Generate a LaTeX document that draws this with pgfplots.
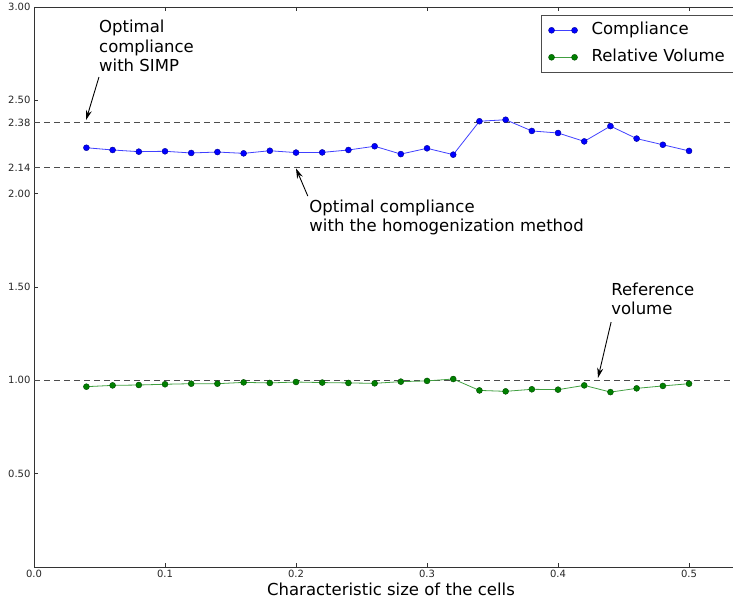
\documentclass[border=0pt]{standalone}
\usepackage{pgfplots}
\pgfplotsset{compat=1.18}
\usepackage{fontspec}
\setmainfont{DejaVu Sans}
\usetikzlibrary{arrows.meta}

\definecolor{mplblue}{rgb}{0,0,1}
\definecolor{mplgreen}{rgb}{0,0.5,0}

\begin{document}
\begin{tikzpicture}
\begin{axis}[
    scale only axis,
    width=714pt, height=560pt,
    xmin=0, xmax=0.545,
    ymin=0, ymax=3,
    xtick={0,0.1,0.2,0.3,0.4,0.5},
    ytick={0.5,1,1.5,2,2.14,2.38,2.5,3},
    xticklabel style={/pgf/number format/.cd,fixed,fixed zerofill,precision=1},
    yticklabel style={/pgf/number format/.cd,fixed,fixed zerofill,precision=2},
    /pgf/number format/assume math mode=true,
    tick label style={font=\fontsize{10}{11}\selectfont, text=black!85},
    tick align=inside,
    major tick length=4pt,
    tick style={black!80, line width=0.6pt},
    axis line style={black!80, line width=0.8pt},
    xlabel={Characteristic size of the cells},
    xlabel style={font=\fontsize{16.5}{19}\selectfont, yshift=2pt},
    legend cell align=left,
    legend style={at={(1,1)}, anchor=north east, xshift=-14pt, yshift=-8pt,
        draw=black!70, line width=0.6pt, inner xsep=7pt, inner ysep=5pt, row sep=7pt,
        font=\fontsize{16.5}{19}\selectfont,
        nodes={inner sep=2pt, text height=12pt, text depth=4pt},
        /tikz/every odd column/.append style={column sep=12pt}},
    legend image code/.code={\draw plot coordinates {(0pt,0pt) (23pt,0pt)};},
    clip=false,
]
% reference levels
\addplot[forget plot, black!70, line width=0.8pt, dash pattern=on 6pt off 4pt] coordinates {(0,2.38) (0.545,2.38)};
\addplot[forget plot, black!70, line width=0.8pt, dash pattern=on 6pt off 4pt] coordinates {(0,2.14) (0.545,2.14)};
\addplot[forget plot, black!70, line width=0.8pt, dash pattern=on 6pt off 4pt] coordinates {(0,1.0) (0.545,1.0)};

\addplot[mplblue!75, line width=0.8pt, mark=*, mark size=3pt,
    mark options={fill=mplblue, draw=mplblue!60!black, line width=0.4pt}] coordinates {
    (0.04,2.246) (0.06,2.234) (0.08,2.225) (0.10,2.227) (0.12,2.218)
    (0.14,2.223) (0.16,2.216) (0.18,2.230) (0.20,2.220) (0.22,2.221)
    (0.24,2.234) (0.26,2.254) (0.28,2.212) (0.30,2.243) (0.32,2.209)
    (0.34,2.388) (0.36,2.396) (0.38,2.336) (0.40,2.325) (0.42,2.280)
    (0.44,2.362) (0.46,2.295) (0.48,2.262) (0.50,2.229)
};
\addlegendentry{Compliance}

\addplot[mplgreen!75, line width=0.8pt, mark=*, mark size=3pt,
    mark options={fill=mplgreen, draw=mplgreen!60!black, line width=0.4pt}] coordinates {
    (0.04,0.966) (0.06,0.973) (0.08,0.975) (0.10,0.979) (0.12,0.982)
    (0.14,0.982) (0.16,0.989) (0.18,0.986) (0.20,0.991) (0.22,0.988)
    (0.24,0.986) (0.26,0.984) (0.28,0.993) (0.30,0.997) (0.32,1.007)
    (0.34,0.946) (0.36,0.941) (0.38,0.952) (0.40,0.950) (0.42,0.973)
    (0.44,0.937) (0.46,0.957) (0.48,0.970) (0.50,0.982)
};
\addlegendentry{Relative Volume}

% annotations
\node[anchor=north west, inner sep=0pt, align=left,
    font=\fontsize{16.5}{19.5}\selectfont] at (axis cs:0.0496,2.93)
    {Optimal\\compliance\\with SIMP};
\draw[-{Stealth[length=10pt,width=6pt]}, line width=0.9pt] (axis cs:0.0496,2.625) -- (axis cs:0.0397,2.394);

\node[anchor=north west, inner sep=0pt, align=left,
    font=\fontsize{16.5}{19.5}\selectfont] at (axis cs:0.2101,1.97)
    {Optimal compliance\\with the homogenization method};
\draw[-{Stealth[length=10pt,width=6pt]}, line width=0.9pt] (axis cs:0.209,1.987) -- (axis cs:0.2,2.135);

\node[anchor=north west, inner sep=0pt, align=left,
    font=\fontsize{16.5}{19.5}\selectfont] at (axis cs:0.4405,1.525)
    {Reference\\volume};
\draw[-{Stealth[length=10pt,width=6pt]}, line width=0.9pt] (axis cs:0.4405,1.312) -- (axis cs:0.4305,1.013);
\end{axis}
\pgfresetboundingbox
\path (current axis.south west) ++(-34pt,-38pt) rectangle ++(733pt,605pt);
\end{tikzpicture}
\end{document}
